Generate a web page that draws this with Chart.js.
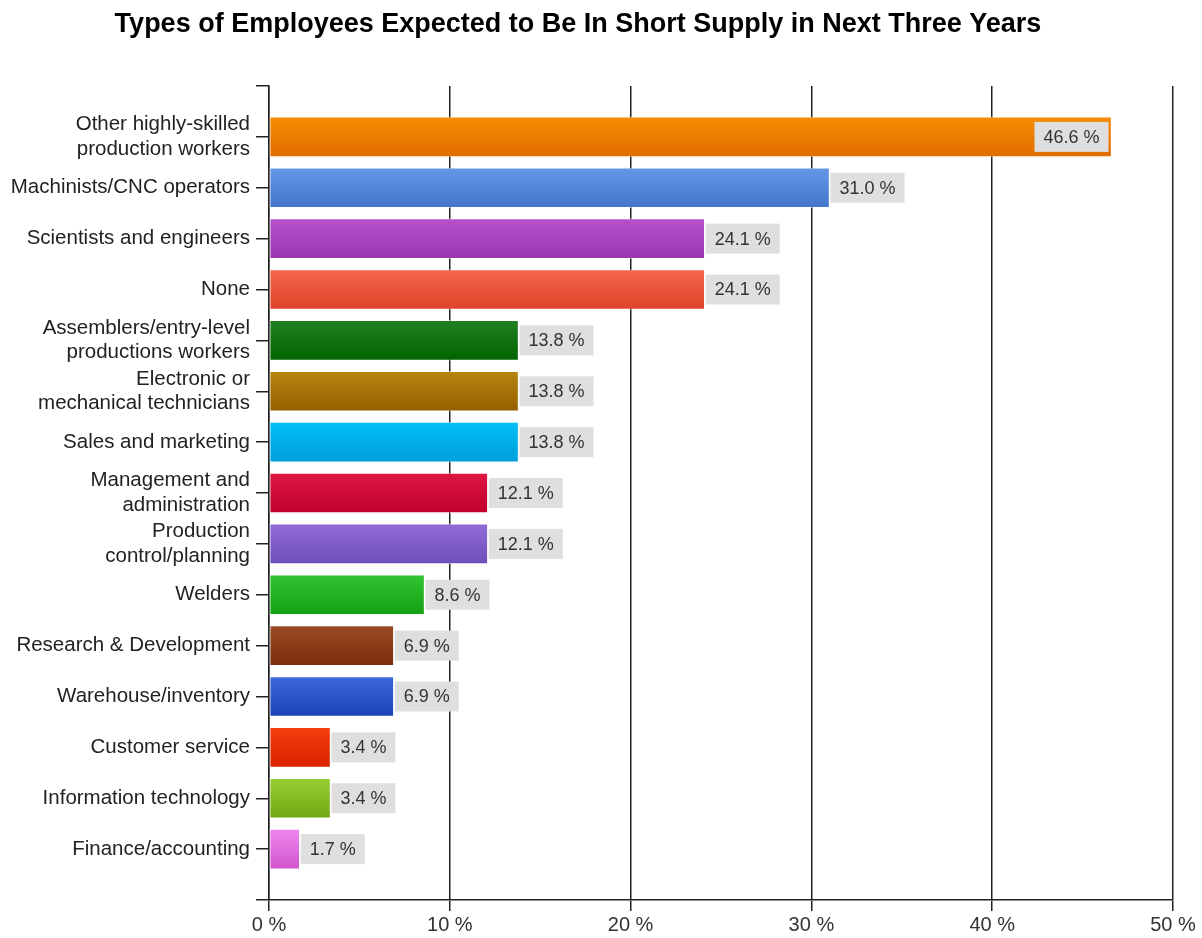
<!DOCTYPE html>
<html>
<head>
<meta charset="utf-8">
<title>Types of Employees Expected to Be In Short Supply</title>
<script src="https://cdn.jsdelivr.net/npm/chart.js@4.4.1/dist/chart.umd.min.js"></script>
<style>
  html, body { margin: 0; padding: 0; background: #fff; }
  canvas { display: block; }
</style>
</head>
<body>
<canvas id="shortageChart" width="1202" height="938"></canvas>
<script>
// Survey results (% of respondents)
const categories = [
  ["Other highly-skilled", "production workers"],
  "Machinists/CNC operators",
  "Scientists and engineers",
  "None",
  ["Assemblers/entry-level", "productions workers"],
  ["Electronic or", "mechanical technicians"],
  "Sales and marketing",
  ["Management and", "administration"],
  ["Production", "control/planning"],
  "Welders",
  "Research & Development",
  "Warehouse/inventory",
  "Customer service",
  "Information technology",
  "Finance/accounting"
];
const shares = [46.6, 31.0, 24.1, 24.1, 13.8, 13.8, 13.8, 12.1, 12.1, 8.6, 6.9, 6.9, 3.4, 3.4, 1.7];
const xTicks = [0, 10, 20, 30, 40, 50];

// top / bottom colours of each bar's gradient
const barColors = [
  ["#f88c04", "#e06c00"],
  ["#6697e6", "#4274cc"],
  ["#b652cc", "#9a36b0"],
  ["#f5664c", "#dc4428"],
  ["#208020", "#006400"],
  ["#b6860e", "#965e00"],
  ["#02c0f6", "#009edc"],
  ["#de1642", "#c0002c"],
  ["#926cd8", "#6e4eb8"],
  ["#32c432", "#12a012"],
  ["#9c4c24", "#7a2c0c"],
  ["#3e68dc", "#1c44b8"],
  ["#f63e0c", "#d82400"],
  ["#9ace36", "#6ea810"],
  ["#ee86ee", "#d054cc"]
];

const FONT = '"Liberation Sans", Arial, sans-serif';
const BAR_H = 40;

// an empty slot above and below keeps half a row of space at both ends
const labels = ["", ...categories, ""];
const values = [null, ...shares, null];

function barFill(ctx) {
  const i = ctx.dataIndex - 1;
  if (ctx.type !== "data" || !barColors[i]) return "#999";
  const yScale = ctx.chart.scales.y;
  if (!yScale || !ctx.chart.chartArea) return barColors[i][0];
  const cy = yScale.getPixelForValue(ctx.dataIndex);
  const g = ctx.chart.ctx.createLinearGradient(0, cy - BAR_H / 2, 0, cy + BAR_H / 2);
  g.addColorStop(0, barColors[i][0]);
  g.addColorStop(1, barColors[i][1]);
  return g;
}

// chart heading
const headingPlugin = {
  id: "heading",
  afterDraw(chart) {
    const c = chart.ctx;
    c.save();
    c.font = "bold 27px " + FONT;
    c.fillStyle = "#000";
    c.textAlign = "center";
    c.textBaseline = "alphabetic";
    c.fillText("Types of Employees Expected to Be In Short Supply in Next Three Years", 578, 32);
    c.restore();
  }
};

// grey value boxes at the end of each bar
const valueBoxPlugin = {
  id: "valueBoxes",
  afterDatasetsDraw(chart) {
    const c = chart.ctx;
    const area = chart.chartArea;
    const meta = chart.getDatasetMeta(0);
    c.save();
    c.font = "18px " + FONT;
    c.textBaseline = "middle";
    c.textAlign = "left";
    meta.data.forEach((bar, idx) => {
      const v = values[idx];
      if (v == null) return;
      const text = v.toFixed(1) + " %";
      const w = c.measureText(text).width + 18;
      const h = 30;
      let x0 = bar.x + 1;
      if (x0 + w > area.right) x0 = bar.x - w - 3;
      c.fillStyle = "#dfdfdf";
      c.fillRect(x0, bar.y - h / 2, w, h);
      c.fillStyle = "#333";
      c.fillText(text, x0 + 9, bar.y + 1);
    });
    c.restore();
  }
};

new Chart(document.getElementById("shortageChart"), {
  type: "bar",
  data: {
    labels: labels,
    datasets: [{
      data: values,
      backgroundColor: barFill,
      borderColor: "rgba(255,255,255,0.45)",
      borderWidth: 1,
      borderSkipped: false,
      barThickness: BAR_H
    }]
  },
  options: {
    indexAxis: "y",
    responsive: false,
    animation: false,
    layout: { padding: { top: 86, right: 29, bottom: 0, left: 0 } },
    plugins: {
      legend: { display: false },
      title: { display: false },
      tooltip: { enabled: false }
    },
    scales: {
      x: {
        min: 0,
        max: 50,
        afterBuildTicks(scale) {
          scale.ticks = xTicks.map(v => ({ value: v }));
        },
        afterFit(scale) { scale.height = 38; },
        grid: { color: "#222", lineWidth: 1.5, tickLength: 11 },
        border: { color: "#222", width: 1.5 },
        ticks: {
          color: "#333",
          font: { family: FONT, size: 20 },
          padding: 2,
          callback: v => v + " %"
        }
      },
      y: {
        offset: false,
        afterFit(scale) { scale.width = 269; },
        grid: { offset: false, drawOnChartArea: false, color: "#222", lineWidth: 1.5, tickLength: 13 },
        border: { color: "#222", width: 1.5 },
        ticks: {
          color: "#222",
          autoSkip: false,
          padding: 6,
          font: { family: FONT, size: 20.5, lineHeight: 1.2 }
        }
      }
    }
  },
  plugins: [headingPlugin, valueBoxPlugin]
});
</script>
</body>
</html>
